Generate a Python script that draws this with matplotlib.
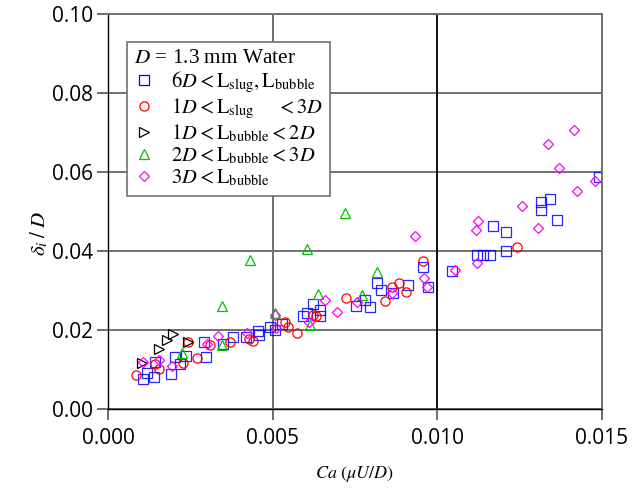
import matplotlib
matplotlib.use("Agg")
import matplotlib.pyplot as plt
from matplotlib.lines import Line2D

plt.rcParams["font.family"] = "Open Sans"
plt.rcParams["mathtext.fontset"] = "stix"

# ---------------------------
# DATA  (Ca, delta_i / D)
# ---------------------------
long_ca = [0.00105, 0.00117, 0.00139, 0.00142, 0.00191, 0.00204, 0.00218, 0.00238,
           0.00291, 0.00299, 0.00348, 0.00379, 0.00419, 0.00456, 0.00459, 0.00492,
           0.00507, 0.00528, 0.00593, 0.00605, 0.00623, 0.00644, 0.00644, 0.00754,
           0.00780, 0.00796, 0.00816, 0.00828, 0.00865, 0.00912, 0.00956, 0.00971,
           0.01044, 0.01120, 0.01139, 0.01159, 0.01209, 0.01169, 0.01209, 0.01316,
           0.01316, 0.01341, 0.01364, 0.01491]
long_d = [0.0076, 0.0092, 0.0082, 0.0118, 0.0089, 0.0131, 0.0113, 0.0135,
          0.0170, 0.0131, 0.0165, 0.0183, 0.0182, 0.0198, 0.0187, 0.0207,
          0.0201, 0.0215, 0.0235, 0.0243, 0.0265, 0.0251, 0.0235, 0.0261,
          0.0276, 0.0257, 0.0318, 0.0301, 0.0293, 0.0314, 0.0359, 0.0310,
          0.0350, 0.0390, 0.0390, 0.0390, 0.0401, 0.0463, 0.0447, 0.0523,
          0.0504, 0.0531, 0.0479, 0.0588]

slug_ca = [0.00086, 0.00142, 0.00155, 0.00228, 0.00243, 0.00269, 0.00309, 0.00370,
           0.00428, 0.00440, 0.00537, 0.00547, 0.00573, 0.00622, 0.00633, 0.00723,
           0.00841, 0.00863, 0.00884, 0.00905, 0.00958, 0.01242]
slug_d = [0.0086, 0.0114, 0.0101, 0.0116, 0.0170, 0.0128, 0.0162, 0.0170,
          0.0177, 0.0173, 0.0221, 0.0208, 0.0193, 0.0237, 0.0235, 0.0281,
          0.0273, 0.0310, 0.0319, 0.0297, 0.0375, 0.0411]

short_ca = [0.00103, 0.00156, 0.00179, 0.00197, 0.00242]
short_d = [0.0116, 0.0152, 0.0175, 0.0190, 0.0170]

mid_ca = [0.00226, 0.00345, 0.00346, 0.00431, 0.00507, 0.00605, 0.00612, 0.00639,
          0.00720, 0.00771, 0.00816]
mid_d = [0.0143, 0.0260, 0.0162, 0.0377, 0.0242, 0.0404, 0.0213, 0.0292,
         0.0495, 0.0289, 0.0348]

big_ca = [0.00107, 0.00156, 0.00193, 0.00300, 0.00335, 0.00421, 0.00507, 0.00510,
          0.00609, 0.00660, 0.00695, 0.00755, 0.00862, 0.00933, 0.00960, 0.00968,
          0.01054, 0.01117, 0.01125, 0.01122, 0.01256, 0.01305, 0.01336, 0.01370,
          0.01416, 0.01424, 0.01480]
big_d = [0.0118, 0.0125, 0.0109, 0.0165, 0.0184, 0.0192, 0.0237, 0.0204,
         0.0221, 0.0276, 0.0246, 0.0272, 0.0293, 0.0438, 0.0332, 0.0310,
         0.0352, 0.0453, 0.0476, 0.0369, 0.0515, 0.0459, 0.0670, 0.0609,
         0.0706, 0.0553, 0.0577]

labels = [r"$6D < \mathrm{L}_{\mathrm{slug}}, \mathrm{L}_{\mathrm{bubble}}$",
          r"$1D < \mathrm{L}_{\mathrm{slug}}\quad\;\; < 3D$",
          r"$1D < \mathrm{L}_{\mathrm{bubble}} < 2D$",
          r"$2D < \mathrm{L}_{\mathrm{bubble}} < 3D$",
          r"$3D < \mathrm{L}_{\mathrm{bubble}}$"]

# ---------------------------
# FIGURE
# ---------------------------
fig = plt.figure(figsize=(6.33, 4.92), dpi=100)
ax = fig.add_axes([0.1706, 0.1687, 0.7804, 0.8028])

ax.set_xlim(0, 0.015)
ax.set_ylim(0, 0.10)
ax.set_xticks([0, 0.005, 0.010, 0.015])
ax.set_yticks([0, 0.02, 0.04, 0.06, 0.08, 0.10])
ax.set_xticklabels(["0.000", "0.005", "0.010", "0.015"])
ax.set_yticklabels(["0.00", "0.02", "0.04", "0.06", "0.08", "0.10"])

ax.grid(True, color="#707070", linewidth=1.4)
ax.axvline(0.010, color="black", linewidth=1.2, zorder=1)
ax.set_axisbelow(True)

for s in ["top", "right"]:
    ax.spines[s].set_color("#707070")
    ax.spines[s].set_linewidth(1.4)
for s in ["left", "bottom"]:
    ax.spines[s].set_color("black")
    ax.spines[s].set_linewidth(1.0)

ax.tick_params(axis="both", direction="out", length=8, width=1.2,
               color="#555555", labelsize=15, pad=3)
ax.tick_params(axis="x", pad=6)

kw = dict(linestyle="none", markerfacecolor="none", markeredgewidth=0.9)
ax.plot(long_ca, long_d, marker="s", markersize=6.8, color="#0000FF", alpha=0.85, **kw)
ax.plot(slug_ca, slug_d, marker="o", markersize=6.6, color="#FF0000", **kw)
ax.plot(short_ca, short_d, marker=">", markersize=6.5, color="black", **kw)
ax.plot(mid_ca, mid_d, marker="^", markersize=6.5, color="#00C000", **kw)
ax.plot(big_ca, big_d, marker="D", markersize=4.6, color="#FF00FF", **kw)

handles = [
    Line2D([], [], marker="s", markersize=6.8, color="#0000FF", **kw),
    Line2D([], [], marker="o", markersize=6.6, color="#FF0000", **kw),
    Line2D([], [], marker=">", markersize=6.5, color="black", **kw),
    Line2D([], [], marker="^", markersize=6.5, color="#00C000", **kw),
    Line2D([], [], marker="D", markersize=4.6, color="#FF00FF", **kw),
]
leg = ax.legend(handles, labels, title=r"$D$ = 1.3 mm Water",
                loc="upper left", bbox_to_anchor=(0.038, 0.93),
                fancybox=False, framealpha=1, edgecolor="#707070",
                prop={"family": "Liberation Serif", "size": 14.8},
                title_fontproperties={"family": "Liberation Serif", "size": 15.3},
                alignment="left", handlelength=1.0, handletextpad=0.8,
                labelspacing=0.08, borderpad=0.35, borderaxespad=0)
leg.get_frame().set_linewidth(1.2)

ax.set_xlabel(r"$Ca\ (\mu U/D)$", fontsize=13)
ax.set_ylabel(r"$\delta_i\;/\;D$", fontsize=15)
ax.xaxis.set_label_coords(0.5, -0.14)
ax.yaxis.set_label_coords(-0.117, 0.445)

fig.savefig("out.png", dpi=100)
